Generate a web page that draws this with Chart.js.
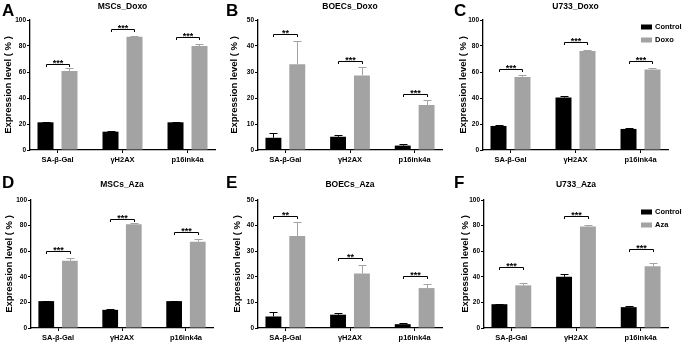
<!DOCTYPE html>
<html>
<head>
<meta charset="utf-8">
<script src="https://cdn.jsdelivr.net/npm/chart.js@4.4.1/dist/chart.umd.min.js"></script>
<style>
  html, body { margin: 0; padding: 0; background: #fff; }
  #fig { position: relative; width: 685px; height: 343px; overflow: hidden; background: #fff; }
  #fig canvas { position: absolute; }
</style>
</head>
<body>
<div id="fig"></div>
<script>
var categories   = ['SA-\u03b2-Gal', '\u03b3H2AX', 'p16ink4a'];
var panelLetters = ['A', 'B', 'C', 'D', 'E', 'F'];
var panelTitles  = ['MSCs_Doxo', 'BOECs_Doxo', 'U733_Doxo', 'MSCs_Aza', 'BOECs_Aza', 'U733_Aza'];
var treatNames   = ['Doxo', 'Doxo', 'Doxo', 'Aza', 'Aza', 'Aza'];
var yMax  = [100, 50, 100, 100, 50, 100];
var yStep = [20, 10, 20, 20, 10, 20];

var controlMean = [[21.3, 14.1, 21.3], [4.7, 5.1, 1.7], [18.5, 40.3, 16.2],
                   [21.0, 14.2, 21.0], [4.5, 5.2, 1.5], [18.6, 40.0, 16.3]];
var controlErr  = [[0.5, 0.4, 0.5], [2.0, 0.8, 0.5], [0.7, 1.5, 0.9],
                   [0.4, 0.4, 0.4], [1.7, 0.5, 0.6], [0.5, 1.8, 0.6]];
var treatMean   = [[60.8, 87.2, 80.0], [33.0, 28.7, 17.3], [56.2, 76.2, 62.0],
                   [52.5, 81.1, 67.4], [35.9, 21.3, 15.6], [33.3, 79.3, 48.3]];
var treatErr    = [[2.2, 0.4, 1.4], [9.0, 3.1, 1.8], [1.2, 0.4, 0.8],
                   [2.5, 1.0, 2.4], [5.6, 3.2, 1.7], [1.6, 1.3, 2.1]];
var sigLevel    = [[66, 92.8, 86.7], [44.5, 34.1, 21.5], [62.3, 82.8, 68.2],
                   [60.5, 84.8, 74.7], [43.9, 27.4, 20.3], [47.8, 87.3, 61.8]];
var sigStars    = [['***', '***', '***'], ['**', '***', '***'], ['***', '***', '***'],
                   ['***', '***', '***'], ['**', '**', '***'], ['***', '***', '***']];
var showLegend  = [false, false, true, false, false, true];

var FONT = "'Liberation Sans', Arial, sans-serif";
var BLACK = '#000000';
var GRAY = '#a3a3a3';

// canvas boxes in page px; L/R/T/B = plot area inside the canvas
var boxes = [
  {x: 0,   y: 0,   w: 228, h: 172, L: 30, R: 215, T: 20, B: 150, tc: 7,  yt: 8,  lg: 0},
  {x: 224, y: 0,   w: 231, h: 172, L: 34, R: 218, T: 20, B: 150, tc: 7,  yt: 10, lg: 0},
  {x: 452, y: 0,   w: 233, h: 172, L: 31, R: 216, T: 20, B: 150, tc: 7,  yt: 11, lg: 27},
  {x: 0,   y: 172, w: 228, h: 171, L: 31, R: 213, T: 28, B: 156, tc: 13, yt: 9,  lg: 0},
  {x: 224, y: 172, w: 231, h: 171, L: 34, R: 218, T: 28, B: 156, tc: 13, yt: 13, lg: 0},
  {x: 452, y: 172, w: 233, h: 171, L: 32, R: 216, T: 28, B: 156, tc: 13, yt: 13, lg: 40}
];

var extras = {
  id: 'extras',
  afterDatasetsDraw: function (chart, args, opts) {
    var ctx = chart.ctx;
    var ys = chart.scales.y;
    ctx.save();
    ctx.lineWidth = 1;
    chart.data.datasets.forEach(function (ds, di) {
      chart.getDatasetMeta(di).data.forEach(function (bar, j) {
        var top = Math.round(ys.getPixelForValue(ds.data[j].y + ds.err[j])) + 0.5;
        var x = Math.round(bar.x) + 0.5;
        ctx.strokeStyle = ds.backgroundColor;
        ctx.beginPath();
        ctx.moveTo(x, bar.y);
        ctx.lineTo(x, top);
        ctx.moveTo(x - 4, top);
        ctx.lineTo(x + 4, top);
        ctx.stroke();
      });
    });
    var m0 = chart.getDatasetMeta(0).data;
    var m1 = chart.getDatasetMeta(1).data;
    ctx.strokeStyle = BLACK;
    ctx.fillStyle = BLACK;
    ctx.font = 'bold 9px ' + FONT;
    ctx.textAlign = 'center';
    ctx.textBaseline = 'alphabetic';
    opts.sig.forEach(function (v, j) {
      var y = Math.round(ys.getPixelForValue(v)) + 0.5;
      var x0 = Math.round(m0[j].x) + 0.5, x1 = Math.round(m1[j].x) + 0.5;
      ctx.beginPath();
      ctx.moveTo(x0, y + 2.5);
      ctx.lineTo(x0, y);
      ctx.lineTo(x1, y);
      ctx.lineTo(x1, y + 2.5);
      ctx.stroke();
      ctx.fillText(opts.stars[j], (x0 + x1) / 2, y + 1.5);
    });
    ctx.restore();
  },
  afterDraw: function (chart, args, opts) {
    var ctx = chart.ctx;
    ctx.save();
    ctx.fillStyle = BLACK;
    ctx.font = 'bold 17px ' + FONT;
    ctx.textAlign = 'left';
    ctx.textBaseline = 'alphabetic';
    ctx.fillText(opts.letter, opts.letterX, opts.letterY);
    if (opts.legendY) {
      var lx = chart.chartArea.right - 27;
      ctx.font = 'bold 7.5px ' + FONT;
      ctx.textBaseline = 'middle';
      chart.data.datasets.forEach(function (ds, di) {
        var cy = opts.legendY + di * 13;
        ctx.fillStyle = ds.backgroundColor;
        ctx.fillRect(lx, cy - 2.5, 11, 5);
        ctx.fillStyle = BLACK;
        ctx.fillText(ds.label, lx + 14, cy);
      });
    }
    ctx.restore();
  }
};

var fig = document.getElementById('fig');

panelTitles.forEach(function (title, i) {
  var b = boxes[i];
  var cv = document.createElement('canvas');
  cv.width = b.w;
  cv.height = b.h;
  cv.style.left = b.x + 'px';
  cv.style.top = b.y + 'px';
  fig.appendChild(cv);

  var tickFont = {family: FONT, size: 6.5, weight: 'bold'};
  var titlePadTop = b.tc - 5.1;

  new Chart(cv, {
    type: 'bar',
    data: {
      datasets: [
        {
          label: 'Control',
          data: controlMean[i].map(function (v, j) { return {x: j, y: v}; }),
          err: controlErr[i],
          backgroundColor: BLACK
        },
        {
          label: treatNames[i],
          data: treatMean[i].map(function (v, j) { return {x: j, y: v}; }),
          err: treatErr[i],
          backgroundColor: GRAY
        }
      ]
    },
    options: {
      responsive: false,
      animation: false,
      categoryPercentage: 0.738,
      barPercentage: 0.667,
      layout: {padding: {left: 0, right: b.w - b.R, top: 0, bottom: 0}},
      plugins: {
        legend: {display: false},
        tooltip: {enabled: false},
        title: {
          display: true,
          text: title,
          fullSize: false,
          color: BLACK,
          font: {family: FONT, size: 8.5, weight: 'bold', lineHeight: 1.2},
          padding: {top: titlePadTop, bottom: b.T - titlePadTop - 10.2}
        },
        extras: {
          sig: sigLevel[i],
          stars: sigStars[i],
          letter: panelLetters[i],
          letterX: 2,
          letterY: 16,
          legendY: showLegend[i] ? b.lg : 0
        }
      },
      scales: {
        x: {
          type: 'linear',
          min: -0.423,
          max: 2.423,
          offset: false,
          ticks: {
            stepSize: 1,
            includeBounds: false,
            autoSkip: false,
            maxRotation: 0,
            padding: 2,
            color: BLACK,
            font: {family: FONT, size: 7.5, weight: 'bold'},
            callback: function (v) { return categories[v] !== undefined ? categories[v] : ''; }
          },
          grid: {offset: false, drawOnChartArea: false, drawTicks: true, tickLength: 3, color: BLACK, lineWidth: 1},
          border: {display: true, color: BLACK, width: 1.3},
          afterFit: function (s) { s.height = b.h - b.B; }
        },
        y: {
          min: 0,
          max: yMax[i],
          ticks: {stepSize: yStep[i], padding: 1, color: BLACK, font: tickFont},
          grid: {drawOnChartArea: false, drawTicks: true, tickLength: 3, color: BLACK, lineWidth: 1},
          border: {display: true, color: BLACK, width: 1.3},
          title: {
            display: true,
            text: 'Expression level ( % )',
            color: BLACK,
            font: {family: FONT, size: 9.5, weight: 'bold', lineHeight: 1.2},
            padding: {top: b.yt - 5.7, bottom: 0}
          },
          afterFit: function (s) { s.width = b.L; }
        }
      }
    },
    plugins: [extras]
  });
});
</script>
</body>
</html>
